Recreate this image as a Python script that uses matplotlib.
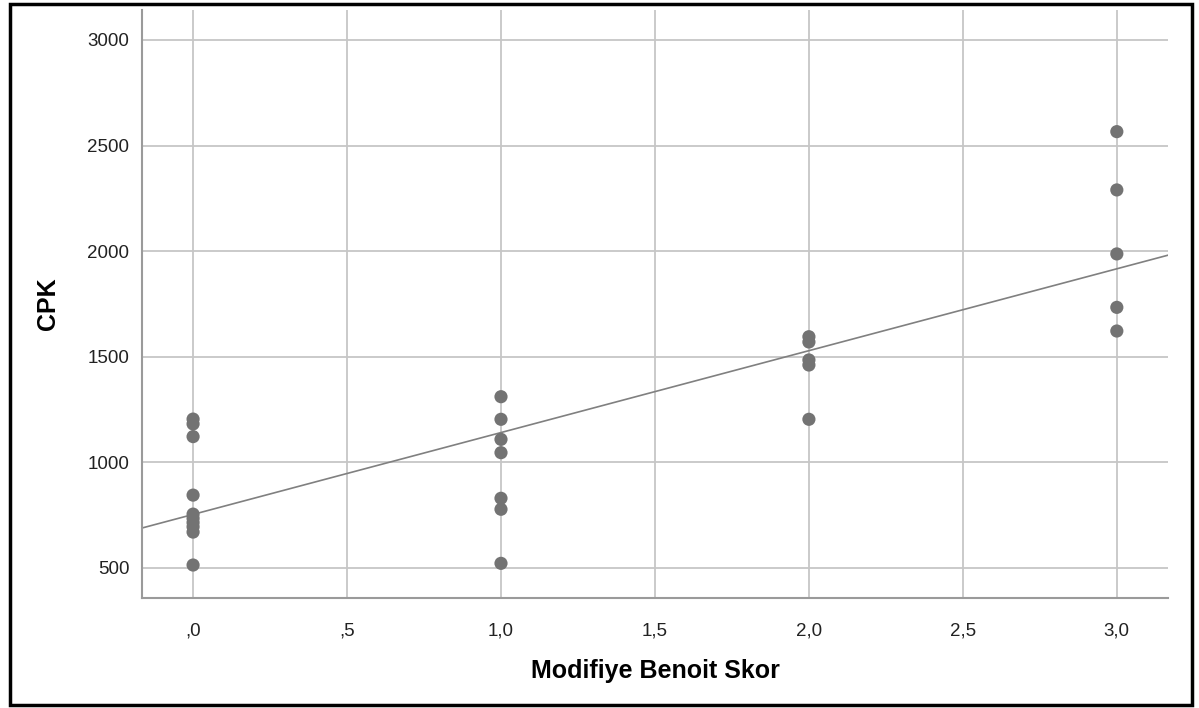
import matplotlib
matplotlib.use('Agg')
import matplotlib.pyplot as plt
from matplotlib.patches import Rectangle
from matplotlib.ticker import FuncFormatter
import numpy as np

plt.rcParams['font.family'] = ['Liberation Sans', 'DejaVu Sans']

# Modifiye Benoit skoru ve CPK degerleri
skor_0 = [1205, 1182, 1122, 845, 755, 735, 715, 695, 670, 514]
skor_1 = [1311, 1204, 1109, 1046, 830, 778, 522]
skor_2 = [1595, 1570, 1485, 1461, 1204]
skor_3 = [2566, 2290, 1987, 1734, 1622]
skorlar = [0, 1, 2, 3]

x = np.concatenate([[s] * len(v) for s, v in zip(skorlar, [skor_0, skor_1, skor_2, skor_3])])
y = np.concatenate([skor_0, skor_1, skor_2, skor_3])

# dogrusal uyum cizgisi
egim, kesisim = np.polyfit(x, y, 1)

fig = plt.figure(figsize=(11.99, 7.08), dpi=100)
ax = fig.add_axes([0.1184, 0.1554, 0.9741 - 0.1184, 0.9859 - 0.1554])

xmin, xmax = -0.166, 3.166
ax.set_xlim(xmin, xmax)
ax.set_ylim(358, 3142)

ax.set_xticks(np.arange(0, 3.01, 0.5))
ax.set_yticks([500, 1000, 1500, 2000, 2500, 3000])
ax.grid(True, color='#c6c6c6', linewidth=1.3)
ax.set_axisbelow(True)

xx = np.array([xmin, xmax])
ax.plot(xx, kesisim + egim * xx, color='#808080', linewidth=1.2, zorder=2)
ax.scatter(x, y, s=90, color='#737373', edgecolors='none', zorder=3)

def virgul(v, pos):
    s = ('%.1f' % v).replace('.', ',')
    if s.startswith('0'):
        s = s[1:]
    return s

ax.xaxis.set_major_formatter(FuncFormatter(virgul))

for side in ['top', 'right']:
    ax.spines[side].set_visible(False)
for side in ['left', 'bottom']:
    ax.spines[side].set_color('#9a9a9a')
    ax.spines[side].set_linewidth(1.5)

ax.tick_params(axis='x', length=0, pad=18, labelsize=13.5, colors='#222222')
ax.tick_params(axis='y', length=0, pad=9, labelsize=13.5, colors='#222222')

ax.set_xlabel('Modifiye Benoit Skor', fontsize=18, fontweight='bold', labelpad=14)
ax.set_ylabel('CPK', fontsize=18, fontweight='bold', labelpad=20)

fig.patches.append(Rectangle((0.0085, 0.004), 0.9855, 0.991, transform=fig.transFigure,
                             fill=False, edgecolor='black', linewidth=2.5))

fig.savefig('out.png', dpi=100)
